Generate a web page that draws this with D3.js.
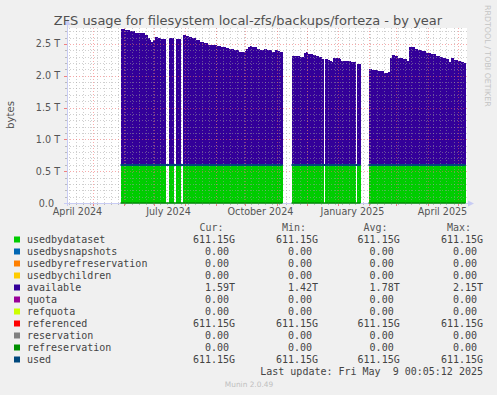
<!DOCTYPE html>
<html><head><meta charset="utf-8">
<script src="https://cdn.jsdelivr.net/npm/d3@7"></script>
<style>
html,body{margin:0;padding:0;background:#F0F0F0;}
svg{display:block;}
text{font-family:"DejaVu Sans",sans-serif;}
.mono{font-family:"DejaVu Sans Mono",monospace;white-space:pre;}
</style></head><body>
<svg id="chart" width="497" height="395"></svg>
<script>
const title = "ZFS usage for filesystem local-zfs/backups/forteza - by year";
const yLabel = "bytes";

// sample dates (step values hold until next date; null = no data)
const dates = [
"2024-05-29","2024-06-02","2024-06-07","2024-06-12","2024-06-17","2024-06-22","2024-06-25","2024-06-27","2024-06-28","2024-06-30",
"2024-07-02","2024-07-05","2024-07-08","2024-07-13",
"2024-07-16","2024-07-21",
"2024-07-23","2024-07-28",
"2024-07-30","2024-08-02","2024-08-05","2024-08-08","2024-08-12","2024-08-16","2024-08-20","2024-08-24","2024-08-27","2024-08-30",
"2024-09-02","2024-09-06","2024-09-11","2024-09-14","2024-09-19","2024-09-24","2024-09-28","2024-09-30",
"2024-10-01","2024-10-03","2024-10-05","2024-10-07","2024-10-12","2024-10-15","2024-10-19","2024-10-22","2024-10-27","2024-10-30",
"2024-11-02","2024-11-04","2024-11-07",
"2024-11-16","2024-11-19","2024-11-21","2024-11-24","2024-11-26","2024-11-28","2024-11-30",
"2024-12-02","2024-12-04","2024-12-07","2024-12-10","2024-12-13","2024-12-16","2024-12-18",
"2024-12-19","2024-12-22","2024-12-24","2024-12-26","2024-12-27",
"2025-01-01","2025-01-03","2025-01-04","2025-01-09","2025-01-14","2025-01-17","2025-01-19",
"2025-01-20","2025-01-24",
"2025-02-01","2025-02-04","2025-02-07","2025-02-10","2025-02-13","2025-02-16","2025-02-20","2025-02-22","2025-02-24","2025-02-27",
"2025-03-02","2025-03-07","2025-03-11","2025-03-13","2025-03-16","2025-03-19","2025-03-22","2025-03-26","2025-03-30",
"2025-04-04","2025-04-09","2025-04-13","2025-04-16","2025-04-19","2025-04-22","2025-04-24","2025-04-27",
"2025-05-01","2025-05-04","2025-05-07","2025-05-09"
];
// available, in T (TiB)
const available = [
2.14,2.12,2.10,2.08,2.07,2.04,2.00,1.96,1.94,1.97,
2.01,2.00,1.98,null,
1.99,null,
1.98,null,
2.04,2.03,2.01,1.99,1.96,1.94,1.91,1.88,1.88,1.89,
1.87,1.85,1.84,1.82,1.81,1.78,1.77,1.79,
1.83,1.86,1.87,1.85,1.83,1.81,1.82,1.81,1.77,1.81,
1.79,1.78,null,
1.71,1.72,1.71,1.69,1.69,1.76,1.77,
1.75,1.74,1.73,1.71,1.70,1.67,null,
1.67,1.65,1.63,1.62,1.68,
1.68,1.67,1.64,1.63,1.62,1.62,null,
1.59,null,
1.51,1.50,1.49,1.47,1.48,1.45,1.46,1.68,1.73,1.72,
1.68,1.66,1.64,1.86,1.85,1.83,1.81,1.79,1.76,
1.74,1.72,1.69,1.68,1.66,1.62,1.68,1.65,
1.63,1.62,1.60,null
];
// usedbydataset, in G (constant 611.15G: cur = min = avg = max)
const usedbydatasetG = available.map(v => v == null ? null : 611.15);

// "used" / zero-valued line series definedness
const lineDates = ["2024-05-29","2024-11-07","2024-11-16","2025-01-24","2025-02-01","2025-05-09"];
const usedLineG = [611.15, null, 611.15, null, 611.15, null];
const refreservationLine = [0, null, 0, null, 0, null];

const yTickValues = [0, 0.5, 1.0, 1.5, 2.0, 2.5];
const yTickLabels = ["0.0", "0.5 T", "1.0 T", "1.5 T", "2.0 T", "2.5 T"];
const xLabelDates = ["2024-04-16","2024-07-16","2024-10-16","2025-01-16","2025-04-16"];
const xLabels = ["April 2024","July 2024","October 2024","January 2025","April 2025"];

const legendNames = ["usedbydataset","usedbysnapshots","usedbyrefreservation","usedbychildren","available","quota","refquota","referenced","reservation","refreservation","used"];
const legendColors = ["#00CC00","#0066B3","#FF8000","#FFCC00","#330099","#990099","#CCFF00","#FF0000","#808080","#008F00","#00487D"];
const curVals = ["611.15G","0.00","0.00","0.00","1.59T","0.00","0.00","611.15G","0.00","0.00","611.15G"];
const minVals = ["611.15G","0.00","0.00","0.00","1.42T","0.00","0.00","611.15G","0.00","0.00","611.15G"];
const avgVals = ["611.15G","0.00","0.00","0.00","1.78T","0.00","0.00","611.15G","0.00","0.00","611.15G"];
const maxVals = ["611.15G","0.00","0.00","0.00","2.15T","0.00","0.00","611.15G","0.00","0.00","611.15G"];
const lastUpdate = "Last update: Fri May  9 00:05:12 2025";
const footer = "Munin 2.0.49";
const watermark = "RRDTOOL / TOBI OETIKER";

const svg = d3.select("#chart");
const parse = d3.utcParse("%Y-%m-%d");
const L = 67, R = 467, T = 28, B = 203;
const x = d3.scaleUtc().domain([new Date(Date.UTC(2024,3,5,12)), new Date(Date.UTC(2025,4,10,12))]).range([L, R]);
const y = d3.scaleLinear().domain([0, 2.75]).range([B, T]);

// canvas
svg.append("rect").attr("x", L).attr("y", T).attr("width", R - L).attr("height", B - T).attr("fill", "#FFFFFF");

// build step runs
function stepRuns(ds, getter) {
  const out = []; let cur = null;
  for (let i = 0; i < ds.length; i++) {
    const val = getter(i);
    const d = parse(ds[i]);
    if (val == null) {
      if (cur) { cur.push(Object.assign({}, cur[cur.length - 1], {d})); out.push(cur); cur = null; }
      continue;
    }
    if (!cur) cur = [];
    else cur.push(Object.assign({}, cur[cur.length - 1], {d}));
    cur.push(Object.assign({d}, val));
  }
  if (cur) out.push(cur);
  return out;
}

const areaRuns = stepRuns(dates, i => available[i] == null ? null :
  {base: usedbydatasetG[i] / 1024, top: usedbydatasetG[i] / 1024 + available[i]});

const g = svg.append("g").attr("shape-rendering", "crispEdges");
const greenArea = d3.area().x(d => x(d.d)).y0(y(0)).y1(d => y(d.base));
const purpleArea = d3.area().x(d => x(d.d)).y0(d => y(d.base)).y1(d => y(d.top));
areaRuns.forEach(run => {
  g.append("path").attr("d", greenArea(run)).attr("fill", legendColors[0]);
  g.append("path").attr("d", purpleArea(run)).attr("fill", legendColors[4]);
});

// grid (drawn over data, like rrdtool)
const minorCol = "rgba(160,160,160,0.5)", majorCol = "rgba(240,100,100,0.55)";
const grid = svg.append("g").attr("shape-rendering", "crispEdges");
const minorY = d3.range(1, 28).map(k => k / 10).filter(v => Math.abs(v * 2 - Math.round(v * 2)) > 1e-6);
minorY.forEach(v => grid.append("line").attr("x1", L).attr("x2", R).attr("y1", Math.round(y(v)) + 0.5).attr("y2", Math.round(y(v)) + 0.5)
  .attr("stroke", minorCol).attr("stroke-dasharray", "1,2"));
const weeks = d3.utcSunday.range(x.domain()[0], x.domain()[1]);
weeks.forEach(d => grid.append("line").attr("x1", Math.round(x(d)) + 0.5).attr("x2", Math.round(x(d)) + 0.5).attr("y1", T).attr("y2", B)
  .attr("stroke", minorCol).attr("stroke-dasharray", "1,2"));
yTickValues.slice(1).forEach(v => grid.append("line").attr("x1", L).attr("x2", R).attr("y1", Math.round(y(v)) + 0.5).attr("y2", Math.round(y(v)) + 0.5)
  .attr("stroke", majorCol).attr("stroke-dasharray", "1,2"));
const months = d3.utcMonth.range(x.domain()[0], x.domain()[1]);
months.forEach(d => grid.append("line").attr("x1", Math.round(x(d)) + 0.5).attr("x2", Math.round(x(d)) + 0.5).attr("y1", T).attr("y2", B)
  .attr("stroke", majorCol).attr("stroke-dasharray", "1,2"));

// tick marks
minorY.forEach(v => grid.append("line").attr("x1", L - 2).attr("x2", L).attr("y1", Math.round(y(v)) + 0.5).attr("y2", Math.round(y(v)) + 0.5).attr("stroke", "#BBBBBB"));
yTickValues.forEach(v => grid.append("line").attr("x1", L - 3).attr("x2", L).attr("y1", Math.round(y(v)) + 0.5).attr("y2", Math.round(y(v)) + 0.5).attr("stroke", "#F08080"));
weeks.forEach(d => grid.append("line").attr("x1", Math.round(x(d)) + 0.5).attr("x2", Math.round(x(d)) + 0.5).attr("y1", B).attr("y2", B + 2).attr("stroke", "#BBBBBB"));
months.forEach(d => grid.append("line").attr("x1", Math.round(x(d)) + 0.5).attr("x2", Math.round(x(d)) + 0.5).attr("y1", B).attr("y2", B + 3).attr("stroke", "#F08080"));

// axes
const axisColor = "#C8CCF4";
svg.append("line").attr("x1", L + 0.5).attr("x2", L + 0.5).attr("y1", B + 3).attr("y2", 22).attr("stroke", axisColor);
svg.append("line").attr("x1", L - 3).attr("x2", R + 3).attr("y1", B + 0.5).attr("y2", B + 0.5).attr("stroke", axisColor);
svg.append("path").attr("d", `M${L - 2.5},${25} L${L + 3.5},${25} L${L + 0.5},${19} Z`).attr("fill", axisColor);
svg.append("path").attr("d", `M${R + 1},${B - 2.5} L${R + 1},${B + 3.5} L${R + 7},${B + 0.5} Z`).attr("fill", axisColor);

// lines
const lineRunsUsed = stepRuns(lineDates, i => usedLineG[i] == null ? null : {v: usedLineG[i] / 1024});
const lineRunsZero = stepRuns(lineDates, i => refreservationLine[i] == null ? null : {v: refreservationLine[i]});
const ln = d3.line().x(d => x(d.d)).y(d => y(d.v));
lineRunsUsed.forEach(run => svg.append("path").attr("d", ln(run)).attr("fill", "none").attr("stroke", legendColors[10]).attr("stroke-width", 2));
lineRunsZero.forEach(run => svg.append("path").attr("d", ln(run)).attr("fill", "none").attr("stroke", legendColors[9]).attr("stroke-width", 1.5));

// title & labels
svg.append("text").attr("x", 248).attr("y", 24.5).attr("text-anchor", "middle").attr("font-size", 13).attr("fill", "#505050").text(title);
svg.append("text").attr("transform", "translate(13.5,115) rotate(-90)").attr("text-anchor", "middle").attr("font-size", 10.2).attr("fill", "#555").text(yLabel);
yTickValues.forEach((v, i) => svg.append("text").attr("x", v === 0 ? 54 : 60).attr("y", y(v) + 3.5).attr("text-anchor", "end")
  .attr("font-size", 9.6).attr("fill", "#555").text(yTickLabels[i]));
xLabelDates.forEach((ds, i) => svg.append("text").attr("x", x(parse(ds))).attr("y", 215).attr("text-anchor", "middle")
  .attr("font-size", 9.6).attr("fill", "#555").text(xLabels[i]));
svg.append("text").attr("transform", "translate(484.5,5) rotate(90)").attr("font-size", 7.9).attr("fill", "#C4C4C4").text(watermark);

// legend
const headerY = 231;
[["Cur:", 199.5], ["Min:", 282], ["Avg:", 363.5], ["Max:", 447]].forEach(([t, hx]) =>
  svg.append("text").attr("class", "mono").attr("x", hx).attr("y", headerY).attr("font-size", 10).attr("fill", "#555").text(t));
const cols = [[curVals, 229], [minVals, 312], [avgVals, 393.7], [maxVals, 477]];
function splitVal(s) { const m = s.match(/^([0-9.]+)([A-Za-z]?)$/); return [m[1], m[2]]; }
legendNames.forEach((name, i) => {
  const by = 243 + 12 * i;
  svg.append("rect").attr("x", 14).attr("y", by - 6.5).attr("width", 6).attr("height", 6).attr("fill", legendColors[i]);
  svg.append("text").attr("class", "mono").attr("x", 27).attr("y", by).attr("font-size", 10).attr("fill", "#444").text(name);
  cols.forEach(([arr, cx]) => {
    const [num, suf] = splitVal(arr[i]);
    svg.append("text").attr("class", "mono").attr("x", cx).attr("y", by).attr("text-anchor", "end").attr("font-size", 10).attr("fill", "#444").text(num);
    if (suf) svg.append("text").attr("class", "mono").attr("x", cx).attr("y", by).attr("font-size", 10).attr("fill", "#444").text(suf);
  });
});
svg.append("text").attr("class", "mono").attr("x", 483).attr("y", 375).attr("text-anchor", "end").attr("font-size", 10).attr("fill", "#444").text(lastUpdate);
svg.append("text").attr("x", 249).attr("y", 387).attr("text-anchor", "middle").attr("font-size", 7.4).attr("fill", "#C0C0C0").text(footer);
</script>
</body></html>
